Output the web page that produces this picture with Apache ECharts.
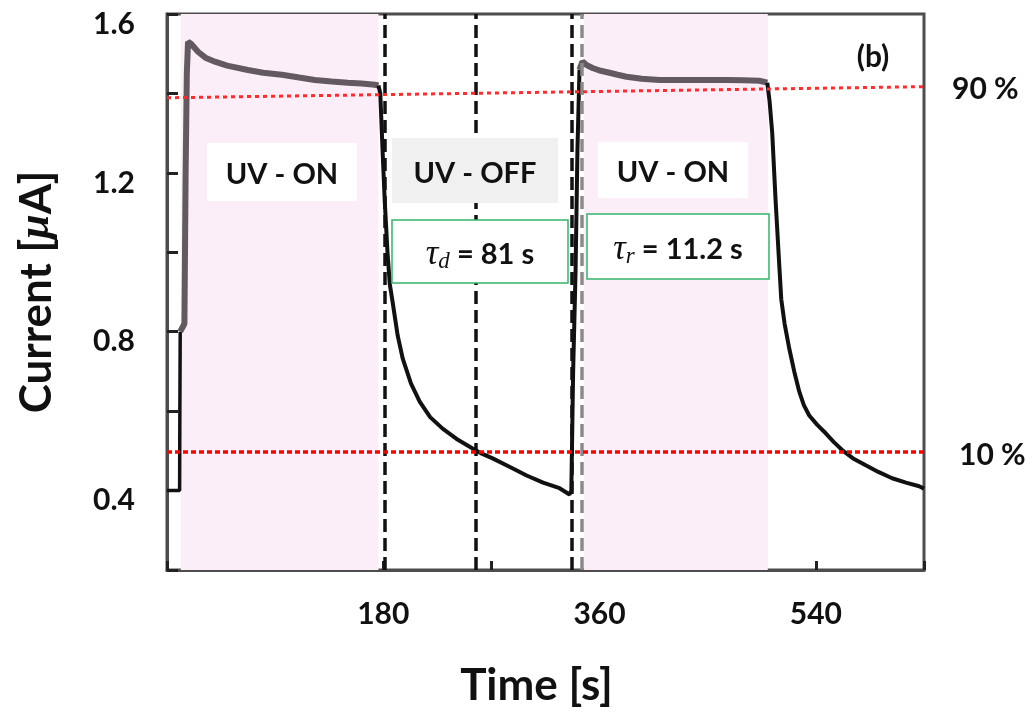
<!DOCTYPE html>
<html>
	<head>
		<meta charset="UTF-8">
		<title>Current vs Time</title>
		<style type="text/css">
			html,body{
				margin: 0;
				padding: 0;
				width: 100%;
				height: 100%;
				background: #fff;
			}
			#main{
				width: 1033px;
				height: 713px;
			}
		</style>
	</head>
	<body>
		<div id="main"></div>
		<script src="https://cdn.jsdelivr.net/npm/echarts@6/dist/echarts.min.js"></script>
		<script>
			// tick labels that are shown
			var xLabels = ['180', '360', '540'];
			var yLabels = ['0.4', '0.8', '1.2', '1.6'];

			// [time s, current uA]
			var darkStart = [[0, 0.40], [10.5, 0.40], [10.7, 0.60], [11, 0.80]];
			var grayOn1 = [[11, 0.80], [14.5, 0.82], [15.5, 1.20], [16.5, 1.45], [17.5, 1.53], [20, 1.525],
				[25.8, 1.505], [32, 1.49], [39.9, 1.48], [50, 1.47], [67.3, 1.459], [80, 1.452],
				[95.6, 1.447], [110, 1.44], [123, 1.434], [137, 1.43], [150.5, 1.427], [162, 1.425],
				[172.9, 1.422], [176, 1.42]];
			var darkOff1 = [[176, 1.42], [177.5, 1.40], [179.5, 1.25], [181.2, 1.13], [183.5, 1.0],
				[185.4, 0.92], [188, 0.87], [192, 0.79], [196.2, 0.732], [203, 0.67], [210.3, 0.624],
				[219, 0.585], [229.4, 0.556], [241, 0.53], [254.4, 0.506], [262, 0.493], [271, 0.481],
				[285, 0.46], [299.3, 0.438], [313, 0.42], [326.7, 0.406], [335, 0.39], [336.5, 0.40],
				[338, 0.70], [340, 0.95], [341.6, 1.26], [343.3, 1.46]];
			var grayOn2 = [[343.3, 1.46], [345.8, 1.48], [349, 1.472], [354.1, 1.464], [361, 1.457],
				[368.2, 1.452], [375, 1.447], [382.4, 1.442], [395, 1.437], [409.8, 1.434], [437.2, 1.434],
				[465.5, 1.434], [480, 1.433], [492.9, 1.432], [499.6, 1.427]];
			var darkOff2 = [[499.6, 1.427], [501.5, 1.38], [503.7, 1.30], [506.5, 1.13], [509.6, 0.965],
				[511.2, 0.882], [514, 0.82], [517.9, 0.757], [522, 0.70], [526.2, 0.649], [530, 0.615],
				[534.5, 0.589], [541, 0.566], [548.6, 0.543], [555, 0.522], [561.9, 0.502], [571, 0.481],
				[581.9, 0.463], [592, 0.447], [603.5, 0.431], [615, 0.42], [626, 0.411], [630, 0.405]];

			var uvOnSpans = [[11.5, 176], [347, 500]];
			var blackDashes = [181.2, 256.9, 336.7];
			var grayDashes = [345];
			var line90 = [[0, 1.389], [630, 1.417]];
			var line10 = [[0, 0.499], [630, 0.499]];

			var font = 'Lato';
			var myChart = echarts.init(document.getElementById('main'));

			function box(x, y, w, h, fill, stroke, text, rich){
				return {
					type: 'group',
					z: 100,
					children: [
						{type: 'rect', z: 100, shape: {x: x, y: y, width: w, height: h},
							style: {fill: fill, stroke: stroke || null, lineWidth: stroke ? 1.5 : 0}},
						{type: 'text', z: 101, x: x + w / 2, y: y + h / 2 + 3,
							style: {text: text, rich: rich, align: 'center', verticalAlign: 'middle',
								fontFamily: font, fontWeight: 'bold', fontSize: 29, fill: '#111'}}
					]
				};
			}
			var tauRich = {
				t: {fontFamily: 'Liberation Serif', fontStyle: 'italic', fontSize: 35, fill: '#111'},
				s: {fontFamily: 'Liberation Serif', fontStyle: 'italic', fontSize: 23, fill: '#111', padding: [14, 0, 0, 0]},
				n: {fontFamily: font, fontWeight: 'bold', fontSize: 29, fill: '#111'}
			};

			var lineBase = {type: 'line', showSymbol: false, symbol: 'none', animation: false};

			myChart.setOption({
				backgroundColor: '#fff',
				animation: false,
				grid: {left: 167, top: 14, right: 109, bottom: 141, show: true,
					borderColor: '#4d4d4d', borderWidth: 3},
				xAxis: {
					type: 'value', min: 0, max: 630, interval: 90,
					name: 'Time [s]', nameLocation: 'middle', nameGap: 94,
					nameTextStyle: {fontFamily: font, fontWeight: 'bold', fontSize: 44, color: '#111', padding: [0, 18, 0, 0]},
					axisLine: {lineStyle: {color: '#4d4d4d', width: 3}},
					axisTick: {inside: true, length: 9, lineStyle: {color: '#222', width: 3}},
					axisLabel: {margin: 29, fontFamily: font, fontWeight: 'bold', fontSize: 30, color: '#111',
						formatter: function(v){ var s = String(v); return xLabels.indexOf(s) >= 0 ? s : ''; }},
					splitLine: {show: false}
				},
				yAxis: {
					type: 'value', min: 0.2, max: 1.6, interval: 0.2,
					name: 'Current [{i|μ}A]', nameLocation: 'middle', nameGap: 108,
					nameTextStyle: {fontFamily: font, fontWeight: 'bold', fontSize: 44, color: '#111',
						rich: {i: {fontFamily: 'Liberation Serif', fontStyle: 'italic', fontSize: 44, color: '#111'}}},
					axisLine: {lineStyle: {color: '#4d4d4d', width: 3}},
					axisTick: {inside: true, length: 11, lineStyle: {color: '#222', width: 3}},
					axisLabel: {margin: 32, verticalAlign: 'top', lineHeight: 20, fontFamily: font, fontWeight: 'bold', fontSize: 30, color: '#111',
						formatter: function(v){ var s = v.toFixed(1); return yLabels.indexOf(s) >= 0 ? s : ''; }},
					splitLine: {show: false}
				},
				series: [
					Object.assign({}, lineBase, {
						name: 'marks', data: [], z: 1,
						markArea: {silent: true, itemStyle: {color: '#fbeef9'},
							data: uvOnSpans.map(function(s){ return [{xAxis: s[0]}, {xAxis: s[1]}]; })},
						markLine: {silent: true, symbol: 'none', label: {show: false},
							data: blackDashes.map(function(x){
								return {xAxis: x, lineStyle: {color: '#111', width: 3.5, type: [13, 6]}};
							}).concat(grayDashes.map(function(x){
								return {xAxis: x, lineStyle: {color: '#8a8a8a', width: 3.5, type: [13, 6]}};
							}))}
					}),
					Object.assign({}, lineBase, {name: 'start', data: darkStart, z: 3,
						lineStyle: {color: '#111', width: 3.5}}),
					Object.assign({}, lineBase, {name: 'on1', data: grayOn1, z: 3,
						lineStyle: {color: '#635a61', width: 6}}),
					Object.assign({}, lineBase, {name: 'off1', data: darkOff1, z: 3,
						lineStyle: {color: '#111', width: 4}}),
					Object.assign({}, lineBase, {name: 'on2', data: grayOn2, z: 3,
						lineStyle: {color: '#635a61', width: 6}}),
					Object.assign({}, lineBase, {name: 'off2', data: darkOff2, z: 3,
						lineStyle: {color: '#111', width: 4},
						markLine: {silent: true, symbol: 'none', label: {show: false},
							data: [
								[{coord: line90[0], lineStyle: {color: '#ff2a2a', width: 3, type: [4, 4]}}, {coord: line90[1]}],
								[{coord: line10[0], lineStyle: {color: '#ff0000', width: 3.5, type: [5, 3]}}, {coord: line10[1]}]
							]}
					})
				],
				graphic: [
					box(207, 143, 150, 58, '#fff', null, 'UV - ON'),
					box(392, 138, 166, 65, '#f0f0f0', null, 'UV - OFF'),
					box(392, 220, 176, 63, '#fff', '#34b56a', '{t|τ}{s|d}{n| = 81 s}', tauRich),
					box(598, 142, 150, 56, '#fff', null, 'UV - ON'),
					box(587, 214, 182, 65, '#fff', '#34b56a', '{t|τ}{s|r}{n| = 11.2 s}', tauRich),
					{type: 'text', x: 873, y: 57, z: 100, style: {text: '(b)', align: 'center', verticalAlign: 'middle',
						fontFamily: font, fontWeight: 'bold', fontSize: 30, fill: '#111'}},
					{type: 'text', x: 952, y: 89, z: 100, style: {text: '90 %', align: 'left', verticalAlign: 'middle',
						fontFamily: font, fontWeight: 'bold', fontSize: 30, fill: '#111'}},
					{type: 'text', x: 959, y: 455, z: 100, style: {text: '10 %', align: 'left', verticalAlign: 'middle',
						fontFamily: font, fontWeight: 'bold', fontSize: 30, fill: '#111'}}
				]
			});
		</script>
	</body>
</html>
